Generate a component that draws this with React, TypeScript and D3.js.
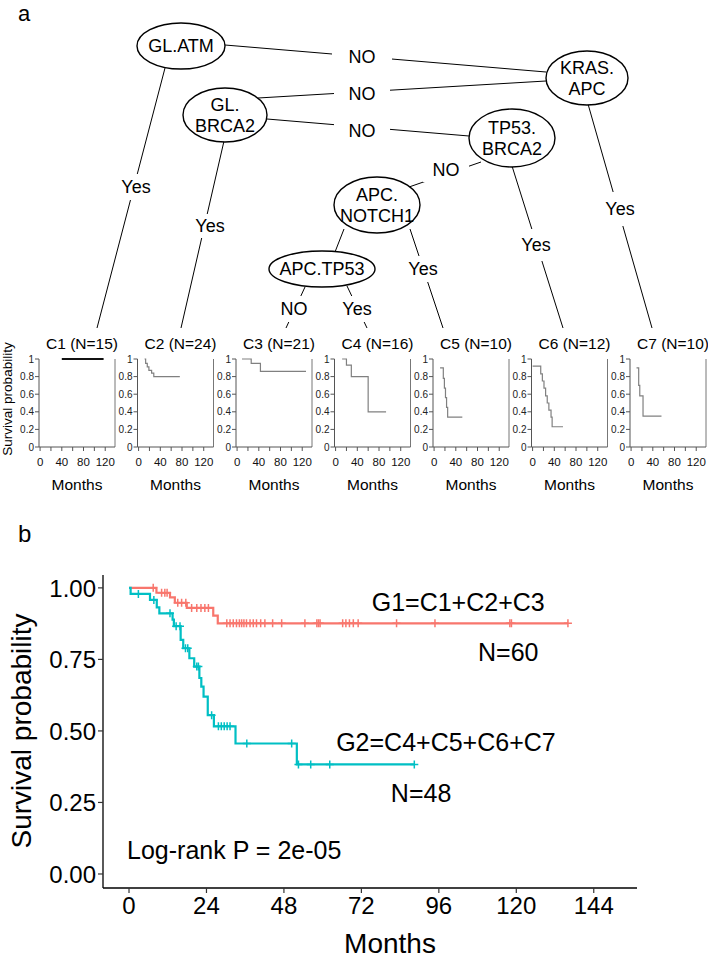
import React from "react";
import * as d3 from "d3";

const FONT = "'Liberation Sans', Arial, Helvetica, sans-serif";

// ---------- panel a : decision tree ----------
const nodeNames = ["GL.ATM", "KRAS.APC", "GL.BRCA2", "TP53.BRCA2", "APC.NOTCH1", "APC.TP53"];
const nodeLines = [["GL.ATM"], ["KRAS.", "APC"], ["GL.", "BRCA2"], ["TP53.", "BRCA2"], ["APC.", "NOTCH1"], ["APC.TP53"]];
const edgeFrom = ["GL.ATM", "GL.BRCA2", "GL.BRCA2", "TP53.BRCA2", "GL.ATM", "GL.BRCA2", "APC.NOTCH1", "APC.NOTCH1", "TP53.BRCA2", "KRAS.APC", "APC.TP53", "APC.TP53"];
const edgeTo = ["KRAS.APC", "KRAS.APC", "TP53.BRCA2", "APC.NOTCH1", "C1", "C2", "APC.TP53", "C5", "C6", "C7", "C3", "C4"];
const edgeLabels = ["NO", "NO", "NO", "NO", "Yes", "Yes", "", "Yes", "Yes", "Yes", "NO", "Yes"];

// layout of the diagram (pixels): cx, cy, rx, ry
const nodeBox: Record<string, [number, number, number, number]> = {
  "GL.ATM": [181, 46, 44, 23],
  "KRAS.APC": [587, 78, 41, 27],
  "GL.BRCA2": [225, 115, 42, 27],
  "TP53.BRCA2": [512, 138, 43, 29],
  "APC.NOTCH1": [377, 205, 43, 28],
  "APC.TP53": [322, 269, 53, 18],
};
// [x1, y1, x2, y2, labelX, labelY, gapW, gapH]
const edgeGeom = [
  [225, 45, 546, 72, 362, 57, 60, 24],
  [258, 98, 546, 81, 362, 94, 56, 22],
  [267, 119, 469, 136, 362, 131, 56, 22],
  [481, 162, 409, 187, 446, 170, 46, 24],
  [165, 68, 97, 328, 136, 187, 36, 26],
  [224, 141, 181, 328, 210, 226, 36, 24],
  [344, 229, 335, 252, 0, 0, 0, 0],
  [410, 229, 443, 328, 423, 269, 36, 26],
  [512, 166, 563, 328, 536, 245, 36, 32],
  [588, 104, 652, 328, 620, 209, 36, 34],
  [305, 287, 286, 328, 294, 309, 34, 26],
  [347, 286, 367, 328, 357, 309, 34, 26],
];

// ---------- panel a : cluster KM thumbnails ----------
const clusters = ["C1", "C2", "C3", "C4", "C5", "C6", "C7"];
const clusterN = [15, 24, 21, 16, 10, 12, 10];
const clusterTimes = [
  [40, 117],
  [11, 13, 16, 19, 24, 28, 76],
  [9, 26, 43, 127],
  [12, 20, 29, 60, 93],
  [11, 17, 19, 21, 23, 25, 52],
  [0, 15, 18, 21, 24, 27, 30, 34, 36, 56],
  [10, 14, 16, 22, 56],
];
const clusterSurv = [
  [1, 1],
  [1, 0.95, 0.91, 0.87, 0.84, 0.8, 0.8],
  [1, 0.95, 0.86, 0.86],
  [1, 0.93, 0.8, 0.4, 0.4],
  [0.9, 0.78, 0.67, 0.56, 0.45, 0.34, 0.34],
  [0.92, 0.83, 0.75, 0.67, 0.58, 0.5, 0.42, 0.34, 0.23, 0.23],
  [0.9, 0.7, 0.58, 0.35, 0.35],
];
const miniYTicks = [0, 0.2, 0.4, 0.6, 0.8, 1];
const miniXTicks = [0, 20, 40, 60, 80, 100, 120];
const miniXLabels = [0, 40, 80, 120];

// ---------- panel b : KM of the two groups ----------
const g1Times = [0, 8.5, 12.7, 14.2, 17.9, 26.1, 27.5];
const g1Surv = [1, 0.983, 0.967, 0.948, 0.93, 0.903, 0.876];
const g1End = 136;
const g1Censor = [7.5, 10.1, 11.1, 11.8, 15.1, 16.3, 17.6, 19.4, 21, 22.3, 23.5, 24.6, 30.3, 31.3, 32.3, 33.3, 34.2, 34.9, 35.6, 36.4, 37.5, 38.5, 39.5, 40.8, 42.1, 44.5, 47.3, 54.5, 58.2, 58.7, 59.2, 66.2, 67.2, 68.3, 69.5, 71.0, 82.9, 94.8, 118.0, 118.5, 136];

const g2Times = [0, 0.5, 6.5, 8.6, 9.4, 13.5, 13.9, 16.0, 16.8, 18.7, 20.2, 21.8, 22.4, 23.1, 24.4, 26.3, 33.0, 52.0];
const g2Surv = [1, 0.979, 0.958, 0.932, 0.911, 0.889, 0.866, 0.818, 0.789, 0.754, 0.725, 0.685, 0.655, 0.62, 0.555, 0.516, 0.456, 0.383];
const g2End = 88.4;
const g2Censor = [2.9, 7.7, 12.7, 14.6, 15.8, 17.5, 18.2, 21.0, 21.5, 25.6, 27.7, 28.6, 29.5, 30.4, 31.3, 36.5, 50.4, 52.5, 56.3, 62.2, 88.4];

const yTicks = [0, 0.25, 0.5, 0.75, 1];
const xTicks = [0, 24, 48, 72, 96, 120, 144];
// annotations, in data units [text, months, survival]
const g1Label = ["G1=C1+C2+C3", 102, 0.95];
const g1N = ["N=60", 117.5, 0.776];
const g2Label = ["G2=C4+C5+C6+C7", 98.2, 0.46];
const g2N = ["N=48", 90.5, 0.284];
const pLabel = ["Log-rank P = 2e-05", -0.6, 0.084];

const RED = "#F8766D";
const TEAL = "#00BFC4";

function survAt(times: number[], surv: number[], t: number) {
  let s = surv[0];
  times.forEach((tt, i) => {
    if (tt <= t) s = surv[i];
  });
  return s;
}

const Tree = () => {
  const lines = edgeGeom.map((g, i) => (
    <line key={"e" + i} x1={g[0]} y1={g[1]} x2={g[2]} y2={g[3]} stroke="#000" strokeWidth={1} />
  ));
  const labels = edgeGeom.map((g, i) =>
    edgeLabels[i] ? (
      <g key={"l" + i}>
        <rect x={g[4] - g[6] / 2} y={g[5] - g[7] / 2} width={g[6]} height={g[7]} fill="#fff" />
        <text x={g[4]} y={g[5]} dy="0.36em" textAnchor="middle" fontSize={18}>
          {edgeLabels[i]}
        </text>
      </g>
    ) : null
  );
  const nodes = nodeNames.map((n, i) => {
    const [cx, cy, rx, ry] = nodeBox[n];
    const ls = nodeLines[i];
    return (
      <g key={n}>
        <ellipse cx={cx} cy={cy} rx={rx} ry={ry} fill="#fff" stroke="#000" strokeWidth={1.4} />
        {ls.map((t, j) => (
          <text key={j} x={cx} y={cy + (j - (ls.length - 1) / 2) * 21} dy="0.36em" textAnchor="middle" fontSize={18}>
            {t}
          </text>
        ))}
      </g>
    );
  });
  return (
    <g>
      {lines}
      {labels}
      {nodes}
    </g>
  );
};

const Thumbs = () => {
  const panelLeft = d3.scaleLinear().domain([0, 6]).range([39, 630]);
  const mx = d3.scaleLinear().domain([-2, 138]).range([0, 76]);
  const my = d3.scaleLinear().domain([0, 1]).range([447, 359]);
  const step = d3
    .line<[number, number]>()
    .x((d) => mx(d[0]))
    .y((d) => my(d[1]))
    .curve(d3.curveStepAfter);
  return (
    <g>
      {clusters.map((c, i) => {
        const pts = clusterTimes[i].map((t, k) => [t, clusterSurv[i][k]] as [number, number]);
        return (
          <g key={c} transform={`translate(${panelLeft(i)},0)`}>
            <text x={43} y={349} textAnchor="middle" fontSize={15.5}>
              {`${c} (N=${clusterN[i]})`}
            </text>
            <line x1={0} x2={0} y1={my(0)} y2={my(1)} stroke="#555" />
            <line x1={76} x2={76} y1={my(0)} y2={my(1)} stroke="#777" />
            <line x1={0} x2={76} y1={my(0)} y2={my(0)} stroke="#555" />
            {miniYTicks.map((t) => (
              <g key={t}>
                <line x1={-4} x2={0} y1={my(t)} y2={my(t)} stroke="#555" />
                <text x={-5} y={my(t)} dy="0.35em" textAnchor="end" fontSize={10} fill="#222">
                  {t === 0 || t === 1 ? String(t) : t.toFixed(1)}
                </text>
              </g>
            ))}
            {miniXTicks.map((t) => (
              <line key={t} x1={mx(t)} x2={mx(t)} y1={my(0)} y2={my(0) + 4} stroke="#555" />
            ))}
            {miniXLabels.map((t) => (
              <text key={t} x={mx(t)} y={466} textAnchor="middle" fontSize={11.5} fill="#111">
                {t}
              </text>
            ))}
            <text x={38} y={490} textAnchor="middle" fontSize={15.5}>
              Months
            </text>
            <path
              d={step(pts) || ""}
              fill="none"
              stroke={i === 0 ? "#111" : "#808080"}
              strokeWidth={i === 0 ? 1.8 : 1.2}
            />
          </g>
        );
      })}
      <text transform="translate(12,399) rotate(-90)" textAnchor="middle" fontSize={13.5}>
        Survival probability
      </text>
    </g>
  );
};

const KM = () => {
  const x = d3.scaleLinear().domain([-7.75, 157.4]).range([104, 637]);
  const y = d3.scaleLinear().domain([-0.049, 1.045]).range([888, 575]);
  const step = d3
    .line<[number, number]>()
    .x((d) => x(d[0]))
    .y((d) => y(d[1]))
    .curve(d3.curveStepAfter);
  const curve = (times: number[], surv: number[], end: number, censor: number[], color: string, key: string) => {
    const pts = times.map((t, i) => [t, surv[i]] as [number, number]);
    pts.push([end, surv[surv.length - 1]]);
    return (
      <g key={key}>
        <path d={step(pts) || ""} fill="none" stroke={color} strokeWidth={2.2} />
        {censor.map((t, i) => {
          const cx = x(t);
          const cy = y(survAt(times, surv, t));
          return (
            <path key={i} d={`M${cx - 4},${cy}H${cx + 4}M${cx},${cy - 4}V${cy + 4}`} stroke={color} strokeWidth={1.5} />
          );
        })}
      </g>
    );
  };
  const ann = (a: (string | number)[], anchor: "middle" | "start") => (
    <text x={x(a[1] as number)} y={y(a[2] as number)} dy="0.36em" textAnchor={anchor} fontSize={25}>
      {a[0]}
    </text>
  );
  return (
    <g>
      <line x1={103} x2={103} y1={y(-0.049)} y2={y(1.045)} stroke="#000" strokeWidth={1.3} />
      <line x1={103} x2={637} y1={888} y2={888} stroke="#000" strokeWidth={1.3} />
      {yTicks.map((t) => (
        <g key={t}>
          <line x1={98} x2={103} y1={y(t)} y2={y(t)} stroke="#333" strokeWidth={1.2} />
          <text x={96} y={y(t)} dy="0.36em" textAnchor="end" fontSize={24}>
            {t.toFixed(2)}
          </text>
        </g>
      ))}
      {xTicks.map((t) => (
        <g key={t}>
          <line x1={x(t)} x2={x(t)} y1={888} y2={893} stroke="#333" strokeWidth={1.2} />
          <text x={x(t)} y={914} textAnchor="middle" fontSize={24}>
            {t}
          </text>
        </g>
      ))}
      {curve(g1Times, g1Surv, g1End, g1Censor, RED, "g1")}
      {curve(g2Times, g2Surv, g2End, g2Censor, TEAL, "g2")}
      {ann(g1Label, "middle")}
      {ann(g1N, "middle")}
      {ann(g2Label, "middle")}
      {ann(g2N, "middle")}
      {ann(pLabel, "start")}
      <text transform="translate(31,731) rotate(-90)" textAnchor="middle" fontSize={28}>
        Survival probability
      </text>
      <text x={390} y={953} textAnchor="middle" fontSize={28}>
        Months
      </text>
    </g>
  );
};

export default function App() {
  return (
    <svg
      width={708}
      height={962}
      style={{ position: "absolute", left: 0, top: 0, background: "#fff" }}
      fontFamily={FONT}
    >
      <rect width={708} height={962} fill="#fff" />
      <text x={18} y={21} fontSize={22}>
        a
      </text>
      <Tree />
      <Thumbs />
      <text x={18} y={542} fontSize={24}>
        b
      </text>
      <KM />
    </svg>
  );
}
